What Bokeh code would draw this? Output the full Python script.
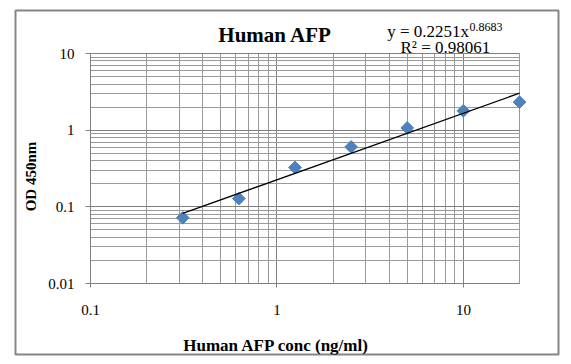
import math
from bokeh.plotting import figure
from bokeh.models import FixedTicker, CustomJSTickFormatter, Label
from bokeh.embed import file_html
from bokeh.resources import INLINE

# ---- data ----
conc = [0.3125, 0.625, 1.25, 2.5, 5, 10, 20]
od = [0.072, 0.128, 0.326, 0.605, 1.07, 1.79, 2.32]
fit_a = 0.2251
fit_b = 0.8683
r_squared = "0.98061"
x_major = [0.1, 1, 10]
x_end = 20
y_major = [0.01, 0.1, 1, 10]
title_text = "Human AFP"
x_title = "Human AFP conc (ng/ml)"
y_title = "OD 450nm"

SERIF = "Liberation Serif"
GRID_MAJOR = "#808080"
GRID_MINOR = "#9a9a9a"
BORDER = "#858585"

# ---- layout geometry (pixels, page coordinates; canvas starts at 0,0) ----
W, H = 566, 360
BOX_L, BOX_T, BOX_R, BOX_B = 15, 10, 558, 354   # chart border = frame
PLOT_L, PLOT_T, PLOT_R, PLOT_B = 90, 53, 519, 283  # plot area

x_lo, x_hi = x_major[0], x_end
y_lo, y_hi = y_major[0], y_major[-1]
px_dec_x = (PLOT_R - PLOT_L) / math.log10(x_hi / x_lo)
px_dec_y = (PLOT_B - PLOT_T) / math.log10(y_hi / y_lo)
xr = (x_lo * 10 ** (-(PLOT_L - BOX_L) / px_dec_x), x_hi * 10 ** ((BOX_R - PLOT_R) / px_dec_x))
yr = (y_lo * 10 ** (-(BOX_B - PLOT_B) / px_dec_y), y_hi * 10 ** ((PLOT_T - BOX_T) / px_dec_y))

def minor(majors, upper):
    out = []
    for m in majors:
        for k in range(2, 10):
            v = m * k
            if v <= upper * 1.0001:
                out.append(v)
    return out

x_minor = minor(x_major, x_hi)
y_minor = minor(y_major[:-1], y_hi)

p = figure(width=W, height=H, x_axis_type="log", y_axis_type="log",
           x_range=xr, y_range=yr,
           output_backend="svg", toolbar_location=None, title_location=None,
           min_border_left=BOX_L, min_border_right=W - BOX_R,
           min_border_top=BOX_T, min_border_bottom=H - BOX_B)
p.outline_line_color = BORDER
p.outline_line_width = 2
p.background_fill_color = "white"
p.border_fill_color = "white"

fmt = CustomJSTickFormatter(code="return Number(tick.toPrecision(6)).toString();")
p.xaxis.ticker = FixedTicker(ticks=x_major, minor_ticks=x_minor)
p.yaxis.ticker = FixedTicker(ticks=y_major, minor_ticks=y_minor)
p.xaxis.fixed_location = y_lo
p.yaxis.fixed_location = x_lo
p.xaxis.bounds = (x_lo, x_hi)
p.yaxis.bounds = (y_lo, y_hi)
for ax in (p.xaxis, p.yaxis):
    ax.formatter = fmt
    ax.axis_line_color = GRID_MAJOR
    ax.major_tick_line_color = GRID_MAJOR
    ax.minor_tick_line_color = None
    ax.major_tick_in = 0
    ax.major_label_text_font = SERIF
    ax.major_label_text_font_size = "15px"
    ax.major_label_text_color = "black"
p.yaxis.major_tick_out = 5
p.yaxis.major_label_standoff = 11
p.xaxis.major_tick_out = 4
p.xaxis.major_label_standoff = 17

for g in (p.xgrid, p.ygrid):
    g.grid_line_color = GRID_MAJOR
    g.minor_grid_line_color = GRID_MINOR
p.xgrid.cross_bounds = (y_lo, y_hi)
p.ygrid.cross_bounds = (x_lo, x_hi)

p.scatter(conc, od, marker="square", angle=math.pi / 4, size=9,
          fill_color="#4F81BD", line_color="#4F81BD")

tx = [conc[0], conc[-1]]
ty = [fit_a * v ** fit_b for v in tx]
p.line(tx, ty, line_color="black", line_width=1.3)

def lab(text, X, Y, size, bold=False, align="left", baseline="alphabetic", angle=0.0):
    # X, Y: page pixel position; converted to frame-relative screen units
    p.add_layout(Label(x=X - BOX_L, y=BOX_B - Y, x_units="screen", y_units="screen",
                       text=text, text_font=SERIF, text_font_size=size,
                       text_font_style="bold" if bold else "normal",
                       text_align=align, text_baseline=baseline, angle=angle,
                       text_color="black"))

lab(title_text, 274.7, 34, "21px", bold=True, align="center")
lab("y = %s" % fit_a + "x", 386.7, 30.7, "17px")
lab(str(fit_b), 469, 26.5, "12px")
lab("R\u00b2 = " + r_squared, 400, 47, "17px")
lab(x_title, 276, 345, "17px", bold=True, align="center")
lab(y_title, 30, 176, "15px", bold=True, align="center", baseline="middle", angle=math.pi / 2)

open("out.html", "w").write(file_html(p, INLINE))
